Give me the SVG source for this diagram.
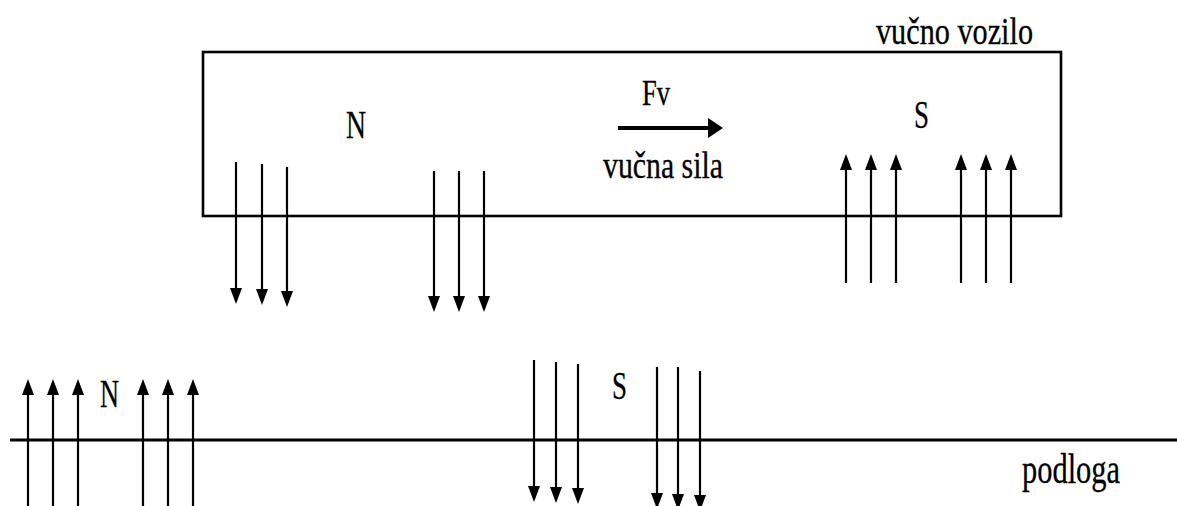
<svg xmlns="http://www.w3.org/2000/svg" width="1177" height="506" viewBox="0 0 1177 506">
<style>
text{font-family:'Liberation Serif','Times New Roman',serif;fill:#000;stroke:#000;stroke-width:0.3}
.a{stroke:#000;stroke-width:2.2;fill:none;marker-end:url(#ah)}
</style>
<defs>
<marker id="ah" viewBox="0 0 16 12" markerWidth="16" markerHeight="12" refX="12" refY="6" orient="auto" markerUnits="userSpaceOnUse">
<path d="M0,0 L16,6 L0,12 z" fill="#000"/>
</marker>
<marker id="ahb" viewBox="0 0 15 20" markerWidth="15" markerHeight="20" refX="2" refY="10" orient="auto" markerUnits="userSpaceOnUse">
<path d="M0,0 L15,10 L0,20 z" fill="#000"/>
</marker>
</defs>
<rect width="1177" height="506" fill="#fff"/>
<g id="vozilo">
<rect x="203" y="52" width="858" height="164" fill="none" stroke="#000" stroke-width="2.6"/>
<text x="876" y="44" font-size="37" textLength="157" lengthAdjust="spacingAndGlyphs">vučno vozilo</text>
<text x="346" y="138" font-size="39" textLength="20" lengthAdjust="spacingAndGlyphs">N</text>
<text x="914" y="128" font-size="40" textLength="15" lengthAdjust="spacingAndGlyphs">S</text>
</g>
<g id="vucna-sila">
<text x="642" y="105" font-size="35" textLength="28" lengthAdjust="spacingAndGlyphs">Fv</text>
<line x1="618" y1="128" x2="710" y2="128" stroke="#000" stroke-width="4" marker-end="url(#ahb)"/>
<text x="603" y="178" font-size="38" textLength="120" lengthAdjust="spacingAndGlyphs">vučna sila</text>
</g>
<g id="podloga">
<line x1="10" y1="440" x2="1177" y2="440" stroke="#000" stroke-width="3"/>
<text x="1022" y="483" font-size="42" textLength="98" lengthAdjust="spacingAndGlyphs">podloga</text>
<text x="100" y="407" font-size="40" textLength="19" lengthAdjust="spacingAndGlyphs">N</text>
<text x="612" y="399" font-size="40" textLength="15" lengthAdjust="spacingAndGlyphs">S</text>
</g>
<g id="connectors">
<line class="a" x1="236" y1="162" x2="236" y2="300"/>
<line class="a" x1="262" y1="164" x2="262" y2="301"/>
<line class="a" x1="287" y1="167" x2="287" y2="303"/>
<line class="a" x1="434" y1="171" x2="434" y2="308"/>
<line class="a" x1="459" y1="171" x2="459" y2="308"/>
<line class="a" x1="484" y1="171" x2="484" y2="308"/>
<line class="a" x1="846" y1="283" x2="846" y2="158"/>
<line class="a" x1="871" y1="283" x2="871" y2="158"/>
<line class="a" x1="896" y1="283" x2="896" y2="158"/>
<line class="a" x1="961" y1="283" x2="961" y2="158"/>
<line class="a" x1="986" y1="283" x2="986" y2="158"/>
<line class="a" x1="1011" y1="283" x2="1011" y2="158"/>
<line class="a" x1="28" y1="510" x2="28" y2="383"/>
<line class="a" x1="53" y1="510" x2="53" y2="383"/>
<line class="a" x1="78" y1="510" x2="78" y2="383"/>
<line class="a" x1="143" y1="510" x2="143" y2="383"/>
<line class="a" x1="168" y1="510" x2="168" y2="383"/>
<line class="a" x1="193" y1="510" x2="193" y2="383"/>
<line class="a" x1="534" y1="360" x2="534" y2="498"/>
<line class="a" x1="556" y1="362" x2="556" y2="499"/>
<line class="a" x1="578" y1="364" x2="578" y2="500"/>
<line class="a" x1="657" y1="367" x2="657" y2="505"/>
<line class="a" x1="678" y1="367" x2="678" y2="506"/>
<line class="a" x1="700" y1="371" x2="700" y2="507"/>
</g>
</svg>
